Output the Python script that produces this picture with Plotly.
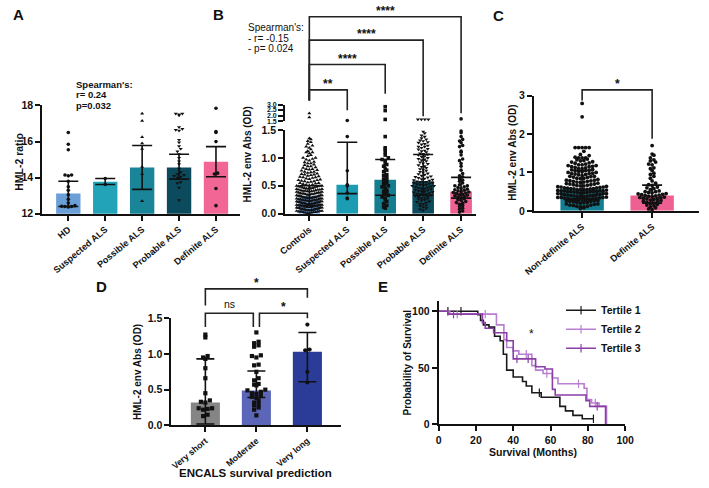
import numpy as np
import plotly.graph_objects as go

W, H = 709, 488
FONT = "Liberation Sans"

def X(px):
    return px / W

def Y(py):
    return 1 - py / H

# ---------------- Panel A data ----------------
A_cats = ["HD", "Suspected ALS", "Possible ALS", "Probable ALS", "Definite ALS"]
A_bar = [13.12, 13.78, 14.57, 14.57, 14.88]
A_lo = [12.40, 13.62, 13.35, 13.92, 14.05]
A_hi = [13.80, 13.95, 15.78, 15.30, 15.72]
A_hd = [16.5, 15.85, 15.55, 14.15, 14.15, 14.1, 13.8, 13.5, 13.3, 13.05, 12.8, 12.6,
        12.45, 12.42, 12.4, 12.4, 12.38]
A_sus = [13.95, 13.62]
A_pos = [17.55, 17.15, 16.25, 15.9, 15.6, 14.6, 14.2, 12.7]
A_prob = [17.55, 17.55, 17.5, 17.45, 16.8, 16.7, 16.65, 16.6, 16.1, 15.95, 15.75, 15.6,
          15.45, 15.3, 15.1, 14.9, 14.75, 14.5, 14.3, 14.2, 14.15, 14.1, 14.05, 14.0,
          13.75, 13.7, 13.45, 12.75]
A_def = [17.85, 16.55, 16.5, 16.0, 14.25, 14.2, 13.4, 12.45]
A_points = [A_hd, A_sus, A_pos, A_prob, A_def]
A_colors = ["#6a9fd8", "#22a3b8", "#1a8499", "#0c4b5e", "#f26695"]
A_symbols = ["circle", "circle", "triangle-up", "triangle-down", "circle"]

# ---------------- Panel B data ----------------
B_cats = ["Controls", "Suspected ALS", "Possible ALS", "Probable ALS", "Definite ALS"]
B_bar = [0.32, 0.52, 0.61, 0.58, 0.40]
B_lo = [0.15, 0.36, 0.33, 0.33, 0.28]
B_hi = [0.50, 1.28, 0.97, 1.06, 0.65]
B_controls = [2.2, 1.85,
              1.35, 1.33, 1.3, 1.28, 1.25, 1.22, 1.2, 1.18, 1.15, 1.12, 1.1, 1.1, 1.08, 1.05,
              1.03, 1.0, 1.0, 0.98, 0.97, 0.95, 0.93, 0.92, 0.9, 0.9, 0.88, 0.87, 0.85, 0.85,
              0.83, 0.82, 0.8, 0.8, 0.79, 0.78, 0.77, 0.75, 0.75, 0.74, 0.73, 0.72, 0.71, 0.7,
              0.7, 0.69, 0.68, 0.67, 0.66, 0.65, 0.65, 0.64, 0.63, 0.62, 0.61, 0.6, 0.6, 0.59,
              0.58, 0.58, 0.57, 0.56, 0.55, 0.55, 0.54, 0.53, 0.52, 0.52, 0.51, 0.5, 0.5, 0.5,
              0.49, 0.49, 0.48, 0.48, 0.47, 0.47, 0.46, 0.46, 0.45, 0.45, 0.45, 0.44, 0.44,
              0.43, 0.43, 0.43, 0.42, 0.42, 0.41, 0.41, 0.41, 0.4, 0.4, 0.4, 0.39, 0.39, 0.38,
              0.38, 0.38, 0.37, 0.37, 0.36, 0.36, 0.36, 0.35, 0.35, 0.35, 0.34, 0.34, 0.33,
              0.33, 0.33, 0.32, 0.32, 0.32, 0.31, 0.31, 0.3, 0.3, 0.3, 0.29, 0.29, 0.29, 0.28,
              0.28, 0.28, 0.27, 0.27, 0.27, 0.26, 0.26, 0.26, 0.25, 0.25, 0.25, 0.24, 0.24,
              0.24, 0.23, 0.23, 0.23, 0.22, 0.22, 0.22, 0.21, 0.21, 0.21, 0.2, 0.2, 0.2, 0.19,
              0.19, 0.19, 0.18, 0.18, 0.18, 0.17, 0.17, 0.17, 0.16, 0.16, 0.16, 0.15, 0.15,
              0.15, 0.14, 0.14, 0.14, 0.13, 0.13, 0.13, 0.12, 0.12, 0.12, 0.11, 0.11, 0.11,
              0.1, 0.1, 0.1, 0.09, 0.09, 0.09, 0.08, 0.08, 0.08, 0.07, 0.07, 0.07, 0.06, 0.06,
              0.06, 0.05, 0.05, 0.05, 0.04, 0.04, 0.04, 0.03, 0.03, 0.03, 0.02, 0.02, 0.01, 0.01]
B_suspected = [1.55, 1.38, 0.77, 0.52, 0.5, 0.37, 0.28, 0.27]
B_possible = [2.8, 2.45, 1.65, 1.38, 1.18, 1.15, 1.1, 1.05, 1.0, 0.97, 0.95, 0.9, 0.88, 0.85,
              0.8, 0.78, 0.75, 0.7, 0.68, 0.65, 0.62, 0.6, 0.58, 0.55, 0.52, 0.5, 0.48, 0.45,
              0.42, 0.4, 0.38, 0.35, 0.33, 0.3, 0.28, 0.25, 0.22, 0.18, 0.15, 0.12, 0.1]
B_probable = [1.65, 1.65, 1.65, 1.65,
              1.47, 1.44, 1.4, 1.38, 1.35, 1.33, 1.31, 1.3, 1.28, 1.27, 1.25, 1.24, 1.22, 1.2,
              1.2, 1.18, 1.16, 1.15, 1.13, 1.12, 1.1, 1.08, 1.07, 1.06, 1.05, 1.03, 1.02, 1.0,
              0.98, 0.97, 0.96, 0.94, 0.92, 0.9, 0.89, 0.87, 0.85, 0.84, 0.82, 0.8, 0.79, 0.77,
              0.75, 0.74, 0.72, 0.71, 0.7, 0.68, 0.67, 0.66, 0.65, 0.64, 0.63, 0.62, 0.61, 0.6,
              0.59, 0.58, 0.57, 0.57, 0.56, 0.55, 0.55, 0.54, 0.53, 0.52, 0.52, 0.51, 0.5, 0.5,
              0.49, 0.48, 0.47, 0.46, 0.45, 0.45, 0.44, 0.43, 0.42, 0.41, 0.4, 0.4, 0.39, 0.38,
              0.37, 0.36, 0.35, 0.35, 0.34, 0.33, 0.32, 0.31, 0.3, 0.29, 0.28, 0.27, 0.26, 0.25,
              0.24, 0.22, 0.21, 0.2, 0.18, 0.17, 0.15, 0.14, 0.12, 0.1, 0.08, 0.06]
B_definite = [1.7, 1.48, 1.45, 1.38, 1.33, 1.3, 1.27, 1.22, 1.2, 1.12, 1.1, 1.05, 0.98, 0.95,
              0.9, 0.85, 0.78, 0.72, 0.68, 0.66, 0.62, 0.6, 0.58, 0.55, 0.52, 0.5, 0.5, 0.48,
              0.47, 0.45, 0.44, 0.43, 0.42, 0.41, 0.4, 0.39, 0.38, 0.37, 0.36, 0.35, 0.34, 0.33,
              0.32, 0.31, 0.3, 0.28, 0.27, 0.25, 0.24, 0.22, 0.2, 0.19, 0.17, 0.15, 0.13, 0.1,
              0.08, 0.05, 0.03]
B_points = [B_controls, B_suspected, B_possible, B_probable, B_definite]
B_colors = ["#6a9ad8", "#1b9cb2", "#157d90", "#0b4b5d", "#ee5f92"]
B_symbols = ["triangle-up", "circle", "square", "triangle-down", "circle"]
B_stars = [("Suspected ALS", "**"), ("Possible ALS", "****"),
           ("Probable ALS", "****"), ("Definite ALS", "****")]

# ---------------- Panel C data ----------------
C_cats = ["Non-definite ALS", "Definite ALS"]
C_bar = [0.57, 0.40]
C_lo = [0.32, 0.20]
C_hi = [1.05, 0.67]
C_points = [B_suspected + B_possible + B_probable, B_definite]
C_colors = ["#137d92", "#ee5f92"]

# ---------------- Panel D data ----------------
D_cats = ["Very short", "Moderate", "Very long"]
D_bar = [0.32, 0.49, 1.03]
D_lo = [0.02, 0.39, 0.61]
D_hi = [0.93, 0.76, 1.30]
D_vshort = [1.27, 1.23, 0.97, 0.95, 0.93, 0.8, 0.66, 0.45, 0.35, 0.33, 0.32, 0.24, 0.24,
            0.23, 0.22, 0.15, 0.13]
D_moderate = [1.3, 1.17, 1.15, 1.12, 1.1, 0.98, 0.97, 0.95, 0.85, 0.84, 0.75, 0.66, 0.63,
              0.58, 0.57, 0.56, 0.5, 0.49, 0.47, 0.45, 0.44, 0.42, 0.4, 0.38, 0.35, 0.32,
              0.3, 0.28, 0.25, 0.22, 0.14]
D_vlong = [1.41, 1.06, 1.05, 0.75, 0.6]
D_points = [D_vshort, D_moderate, D_vlong]
D_colors = ["#858585", "#5b66b8", "#2b3b98"]
D_symbols = ["square", "square", "circle"]

# ---------------- Panel E data ----------------
E_names = ["Tertile 1", "Tertile 2", "Tertile 3"]
E_colors = ["#1a1a1a", "#b97fd1", "#8a3ea6"]
T1_t = [0, 5, 12, 20, 21, 22.5, 24, 27, 30, 33, 34.7, 36.5, 40, 45, 47, 50, 54, 55, 65, 68, 72, 77, 83]
T1_s = [100, 100, 100, 100, 97, 92, 88, 86, 78, 74, 62, 48, 42, 38, 34, 28, 28, 24, 16, 12, 8, 5, 5]
T1_c = [0, 1, 1, 0, 0, 0, 0, 0, 0, 0, 0, 0, 0, 0, 0, 0, 1, 0, 0, 0, 0, 0, 1]
T2_t = [0, 6, 10, 25, 28, 31, 35, 36.5, 40, 43, 47, 50, 52, 56, 58, 61, 64, 75, 78, 79.5, 82, 84, 86, 90]
T2_s = [100, 97.5, 97.5, 97.5, 97.5, 88, 75, 68, 65, 62, 62, 52, 48, 45, 45, 41, 36, 36, 32, 22, 19, 19, 16, 0]
T2_c = [0, 0, 1, 1, 0, 0, 0, 0, 0, 0, 1, 0, 0, 0, 1, 0, 0, 1, 0, 0, 0, 1, 0, 0]
T3_t = [0, 5, 8, 21, 23.5, 25, 29.5, 36.5, 40, 42, 48, 52, 57, 61, 62.5, 79, 81, 85, 89.5]
T3_s = [100, 97.5, 97.5, 97.5, 90, 85, 81, 74, 58, 58, 58, 51, 49, 31, 26, 21, 16, 16, 0]
T3_c = [0, 0, 1, 0, 0, 0, 0, 0, 0, 1, 1, 0, 0, 0, 0, 0, 0, 1, 0]
E_data = [(T1_t, T1_s, T1_c), (T2_t, T2_s, T2_c), (T3_t, T3_s, T3_c)]


def swarm_x(vals, center, ppu, ppc, dot, maxhalf):
    v = np.asarray(vals, dtype=float)
    x = np.full(len(v), float(center))
    if len(v) == 0:
        return x
    keys = np.floor(v / (dot / ppu) + 1e-9).astype(int)
    for k in np.unique(keys):
        idx = np.where(keys == k)[0]
        idx = idx[np.argsort(v[idx], kind="stable")]
        n = len(idx)
        if n < 2:
            continue
        step = min(dot, 2.0 * maxhalf / (n - 1))
        pos = (np.arange(n) - (n - 1) / 2.0) * step
        order = np.argsort(np.abs(pos) + 1e-6 * pos, kind="stable")
        x[idx] = center + pos[order] / ppc
    return x


fig = go.Figure()


def add_bars(cats, vals, colors, xa, ya, width):
    fig.add_trace(go.Bar(x=list(range(len(cats))), y=vals, marker=dict(color=colors, line=dict(width=0)),
                         width=width, xaxis=xa, yaxis=ya, showlegend=False, hoverinfo="skip"))


def add_points(vals, center, xa, ya, ppu, ppc, dot, maxhalf, symbol, size):
    if len(vals) == 0:
        return
    xs = swarm_x(vals, center, ppu, ppc, dot, maxhalf)
    fig.add_trace(go.Scatter(x=xs, y=vals, mode="markers", xaxis=xa, yaxis=ya,
                             marker=dict(symbol=symbol, size=size, color="#111111", line=dict(width=0)),
                             cliponaxis=False, showlegend=False, hoverinfo="skip"))


def add_err(bar, lo, hi, xa, ya, half):
    fig.add_trace(go.Scatter(x=list(range(len(bar))), y=bar, mode="markers", xaxis=xa, yaxis=ya,
                             marker=dict(size=1, color="rgba(0,0,0,0)"),
                             error_y=dict(type="data", symmetric=False,
                                          array=[h - b for h, b in zip(hi, bar)],
                                          arrayminus=[b - l for b, l in zip(bar, lo)],
                                          color="#111111", thickness=1.6, width=half),
                             cliponaxis=False, showlegend=False, hoverinfo="skip"))


# Panel A
add_bars(A_cats, A_bar, A_colors, "x", "y", 0.66)
for i, pts in enumerate(A_points):
    add_points(pts, i, "x", "y", 18.5, 38, 3.4, 10, A_symbols[i], 3.6)
add_err(A_bar, A_lo, A_hi, "x", "y", 10)

# Panel B (broken axis: lower y2, upper y3)
add_bars(B_cats, B_bar, B_colors, "x2", "y2", 0.57)
for i, pts in enumerate(B_points):
    low = [v for v in pts if v <= 1.5]
    up = [v for v in pts if v > 1.5]
    mh = 13 if i == 0 else 12
    add_points(low, i, "x2", "y2", 57.3, 39, 3.2, mh, B_symbols[i], 3.6)
    add_points(up, i, "x2", "y3", 11.3, 39, 3.6, mh, B_symbols[i], 3.6)
add_err(B_bar, B_lo, B_hi, "x2", "y2", 10)

# Panel C
add_bars(C_cats, C_bar, C_colors, "x3", "y4", 0.62)
for i, pts in enumerate(C_points):
    add_points(pts, i, "x3", "y4", 39.3, 72, 3.6, 25, "circle", 3.8)
add_err(C_bar, C_lo, C_hi, "x3", "y4", 10)

# Panel D
add_bars(D_cats, D_bar, D_colors, "x4", "y5", 0.57)
for i, pts in enumerate(D_points):
    add_points(pts, i, "x4", "y5", 73.3, 52.5, 4.6, 12, D_symbols[i], 4.2)
add_err(D_bar, D_lo, D_hi, "x4", "y5", 9)

# Panel E
for (t, s, c), name, col in zip(E_data, E_names, E_colors):
    fig.add_trace(go.Scatter(x=t, y=s, mode="lines", line=dict(color=col, width=1.6, shape="hv"),
                             xaxis="x5", yaxis="y6", showlegend=False, hoverinfo="skip", cliponaxis=False))
    ct = [ti for ti, ci in zip(t, c) if ci]
    cs = [si for si, ci in zip(s, c) if ci]
    fig.add_trace(go.Scatter(x=ct, y=cs, mode="markers",
                             marker=dict(symbol="line-ns-open", size=6, color=col,
                                         line=dict(color=col, width=1.2)),
                             xaxis="x5", yaxis="y6", showlegend=False, hoverinfo="skip", cliponaxis=False))
    fig.add_trace(go.Scatter(x=[None], y=[None], mode="lines+markers", name=name,
                             line=dict(color=col, width=1.6),
                             marker=dict(symbol="line-ns-open", size=6, color=col,
                                         line=dict(color=col, width=1.2)),
                             xaxis="x5", yaxis="y6", showlegend=True))

TICKFONT = dict(family=FONT, size=10.5, color="#111111", weight="bold")
XTICKFONT = dict(family=FONT, size=9.2, color="#111111", weight="bold")


def yaxis(top, bottom, rng, vals, anchor, fmt=None, size=10.5):
    d = dict(domain=[Y(bottom), Y(top)], range=rng, tickvals=vals, anchor=anchor,
             showline=True, linecolor="#111111", linewidth=1.8, ticks="outside", ticklen=5,
             tickwidth=1.6, tickcolor="#111111", showgrid=False, zeroline=False,
             tickfont=dict(TICKFONT, size=size), fixedrange=True)
    if fmt:
        d["tickformat"] = fmt
    return d


def xaxis(left, right, rng, cats, anchor, size=9.2):
    return dict(domain=[X(left), X(right)], range=rng, tickvals=list(range(len(cats))),
                ticktext=cats, tickangle=-40, anchor=anchor, showline=True, linecolor="#111111",
                linewidth=1.8, ticks="outside", ticklen=5, tickwidth=1.6, tickcolor="#111111",
                showgrid=False, zeroline=False, tickfont=dict(XTICKFONT, size=size), fixedrange=True)


fig.update_layout(
    width=W, height=H, margin=dict(l=0, r=0, t=0, b=0),
    paper_bgcolor="white", plot_bgcolor="white", hovermode=False,
    font=dict(family=FONT, color="#111111"),
    xaxis=xaxis(32, 236, [-0.71, 4.66], A_cats, "y"),
    yaxis=yaxis(102, 213, [12, 18], [12, 14, 16, 18], "x"),
    xaxis2=xaxis(282, 478, [-0.64, 4.38], B_cats, "y2"),
    yaxis2=yaxis(127, 213, [0, 1.5], [0, 0.5, 1.0, 1.5], "x2", ".1f"),
    yaxis3=yaxis(101, 118, [1.5, 3.0], [1.5, 2.0, 2.5, 3.0], "x2", ".1f", size=7),
    xaxis3=xaxis(538, 708, [-0.69, 1.67], C_cats, "y4"),
    yaxis4=yaxis(92, 210, [0, 3], [0, 1, 2, 3], "x3"),
    xaxis4=xaxis(165, 340, [-0.667, 2.667], D_cats, "y5", size=8.8),
    yaxis5=yaxis(320, 430, [0, 1.5], [0, 0.5, 1.0, 1.5], "x4", ".1f"),
    xaxis5=dict(domain=[X(440), X(632)], range=[0, 100], tickvals=[0, 20, 40, 60, 80, 100],
                anchor="y6", showline=True, linecolor="#111111", linewidth=1.8, ticks="outside",
                ticklen=5, tickwidth=1.6, tickcolor="#111111", showgrid=False, zeroline=False,
                tickfont=TICKFONT, fixedrange=True),
    yaxis6=yaxis(302, 429, [0, 109.5], [0, 50, 100], "x5"),
    legend=dict(x=X(566), y=Y(297), xanchor="left", yanchor="top", bgcolor="rgba(0,0,0,0)",
                font=dict(family=FONT, size=10.5, color="#111111", weight="bold"),
                itemwidth=30, tracegroupgap=0),
    showlegend=True,
)

ann = []


def text(px, py, s, size=10, bold=True, xanchor="center", angle=0, xref="paper", xval=None):
    ann.append(dict(x=X(px) if xval is None else xval, y=Y(py), xref=xref, yref="paper",
                    text=s, showarrow=False, xanchor=xanchor, yanchor="middle", textangle=angle,
                    font=dict(family=FONT, size=size, color="#111111",
                              weight="bold" if bold else "normal")))


# panel letters
for letter, (px, py) in zip("ABCDE", [(8, 9), (214, 9), (502, 10), (93, 288), (383, 288)]):
    text(px, py, letter, size=15)

# axis titles
text(8, 160, "HML-2 ratio", size=10.5, angle=-90)
text(243, 152, "HML-2 env Abs (OD)", size=10, angle=-90)
text(516, 150, "HML-2 env Abs (OD)", size=10, angle=-90)
text(130, 375, "HML-2 env Abs (OD)", size=10, angle=-90)
text(407, 366, "Probability of Survival", size=10, angle=-90)
text(252, 479, "ENCALS survival prediction", size=11.5)
text(537, 457, "Survival (Months)", size=10.5)

# Spearman notes
text(65, 80, "Spearman's:", size=9.5, xanchor="left")
text(65, 91, "r= 0.24", size=9.5, xanchor="left")
text(65, 102, "p=0.032", size=9.5, xanchor="left")
text(242, 22, "Spearman's:", size=10, bold=False, xanchor="left")
text(242, 33, "- r= -0.15", size=10, bold=False, xanchor="left")
text(242, 44, "- p= 0.024", size=10, bold=False, xanchor="left")

shapes = []


def bracket(xref, x0, x1, ytop, yl, yr):
    shapes.append(dict(type="path", xref=xref, yref="paper",
                       path=f"M {x0},{Y(yl)} L {x0},{Y(ytop)} L {x1},{Y(ytop)} L {x1},{Y(yr)}",
                       line=dict(color="#222222", width=1.6)))


# B brackets
B_top = [86, 60, 35, 11]
B_right = [107, 90, 113, 110]
for (cat, star), yt, yr in zip(B_stars, B_top, B_right):
    j = B_cats.index(cat)
    bracket("x2", 0, j, yt, 97, yr)
    text(0, yt - 6, star, size=12, xref="x2", xval=j / 2)

# C bracket
bracket("x3", 0, 1, 86, 97, 136)
text(0, 80, "*", size=12, xref="x3", xval=0.5)

# D brackets
bracket("x4", 0, 2, 290, 307, 299)
text(0, 284, "*", size=12, xref="x4", xval=1.0)
bracket("x4", 0, 0.94, 315, 329, 329)
text(0, 305, "ns", size=10.5, bold=False, xref="x4", xval=0.47)
bracket("x4", 1.06, 2, 315, 329, 320)
text(0, 309, "*", size=12, xref="x4", xval=1.53)

# E star
ann.append(dict(x=50, y=80, xref="x5", yref="y6", text="*", showarrow=False,
                font=dict(family=FONT, size=12, color="#111111")))

fig.update_layout(annotations=ann, shapes=shapes)
fig.write_html("out.html", config={"displayModeBar": False},
               post_script="document.body.style.margin='0';")
